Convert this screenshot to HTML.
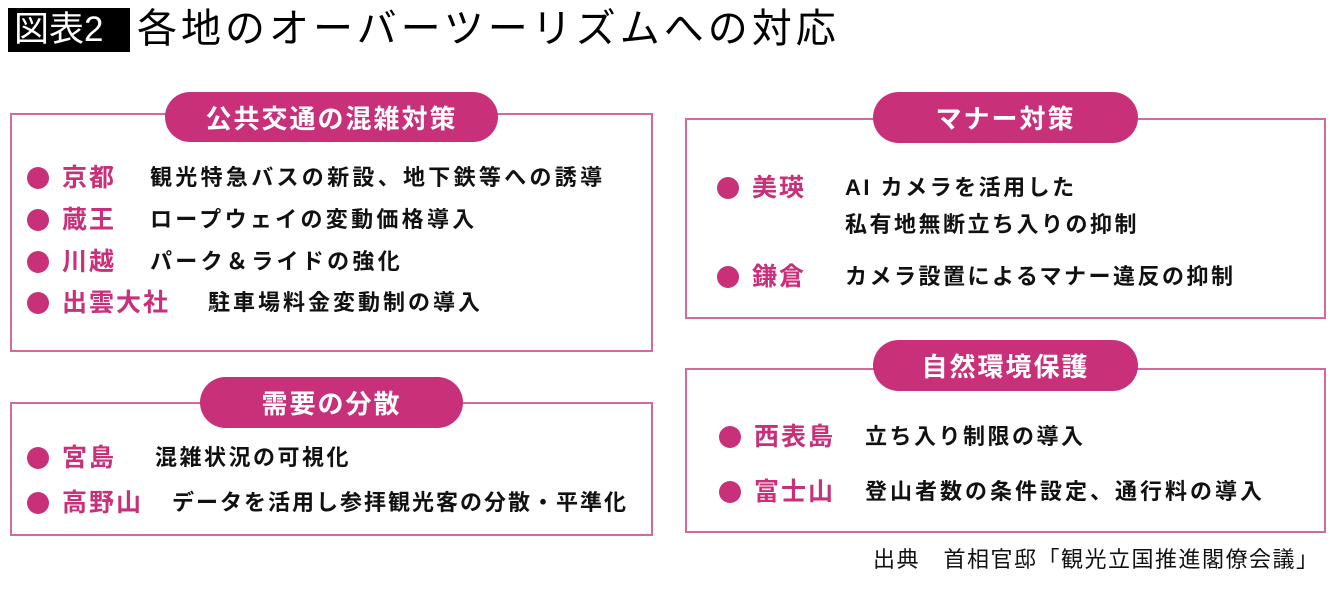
<!DOCTYPE html>
<html><head><meta charset="utf-8"><style>
*{margin:0;padding:0;box-sizing:border-box}
body{width:1340px;height:590px;background:#fff;position:relative;overflow:hidden;font-family:"Liberation Sans","Noto Sans CJK JP",sans-serif}
.a{position:absolute;white-space:nowrap}
.box{position:absolute;border:2px solid #d46a9c}
.pill{position:absolute;background:#c8307a;border-radius:26px;color:#fff;font-weight:bold;font-size:26px;letter-spacing:2px;display:flex;align-items:center;justify-content:center}
.dot{position:absolute;width:22px;height:22px;border-radius:50%;background:#c8307a}
.l{position:absolute;white-space:nowrap;color:#c8307a;font-weight:bold;font-size:25px;letter-spacing:2px;line-height:30px}
.d{position:absolute;white-space:nowrap;color:#111;font-weight:bold;font-size:22px;letter-spacing:2.5px;line-height:30px}
</style></head><body>
<div class="a" style="left:8px;top:8px;width:122px;height:44px;background:#000;color:#fff;font-size:35px;line-height:44px;padding-left:6px">図表2</div>
<div class="a" style="left:137px;top:4px;font-size:40px;line-height:50px;letter-spacing:4px;color:#000">各地のオーバーツーリズムへの対応</div>

<div class="box" style="left:10px;top:113px;width:643px;height:239px"></div>
<div class="pill" style="left:165px;top:92px;width:333px;height:50px">公共交通の混雑対策</div>
<div class="dot" style="left:27px;top:167px"></div><div class="l" style="left:62px;top:163px">京都</div><div class="d" style="left:150px;top:163px;letter-spacing:3.3px">観光特急バスの新設、地下鉄等への誘導</div>
<div class="dot" style="left:27px;top:209px"></div><div class="l" style="left:62px;top:205px">蔵王</div><div class="d" style="left:150px;top:205px;letter-spacing:3.3px">ロープウェイの変動価格導入</div>
<div class="dot" style="left:27px;top:251px"></div><div class="l" style="left:62px;top:247px">川越</div><div class="d" style="left:150px;top:247px;letter-spacing:3.3px">パーク＆ライドの強化</div>
<div class="dot" style="left:27px;top:292px"></div><div class="l" style="left:62px;top:288px">出雲大社</div><div class="d" style="left:208px;top:288px;letter-spacing:3px">駐車場料金変動制の導入</div>

<div class="box" style="left:10px;top:402px;width:643px;height:134px"></div>
<div class="pill" style="left:200px;top:377px;width:263px;height:51px">需要の分散</div>
<div class="dot" style="left:27px;top:447px"></div><div class="l" style="left:62px;top:443px">宮島</div><div class="d" style="left:155px;top:443px">混雑状況の可視化</div>
<div class="dot" style="left:27px;top:492px"></div><div class="l" style="left:62px;top:488px">高野山</div><div class="d" style="left:172px;top:488px;letter-spacing:2px">データを活用し参拝観光客の分散・平準化</div>

<div class="box" style="left:685px;top:118px;width:641px;height:201px"></div>
<div class="pill" style="left:873px;top:92px;width:265px;height:51px">マナー対策</div>
<div class="dot" style="left:717px;top:177px"></div><div class="l" style="left:752px;top:173px">美瑛</div><div class="d" style="left:845px;top:173px">AI カメラを活用した</div>
<div class="d" style="left:845px;top:210px">私有地無断立ち入りの抑制</div>
<div class="dot" style="left:717px;top:266px"></div><div class="l" style="left:752px;top:262px">鎌倉</div><div class="d" style="left:845px;top:262px">カメラ設置によるマナー違反の抑制</div>

<div class="box" style="left:685px;top:368px;width:641px;height:165px"></div>
<div class="pill" style="left:873px;top:340px;width:265px;height:51px">自然環境保護</div>
<div class="dot" style="left:719px;top:426px"></div><div class="l" style="left:754px;top:422px">西表島</div><div class="d" style="left:865px;top:422px">立ち入り制限の導入</div>
<div class="dot" style="left:719px;top:481px"></div><div class="l" style="left:754px;top:477px">富士山</div><div class="d" style="left:865px;top:477px;letter-spacing:3px">登山者数の条件設定、通行料の導入</div>

<div class="a" style="left:873px;top:545px;font-size:22px;line-height:30px;letter-spacing:1.5px;color:#111">出典　首相官邸「観光立国推進閣僚会議」</div>
</body></html>
